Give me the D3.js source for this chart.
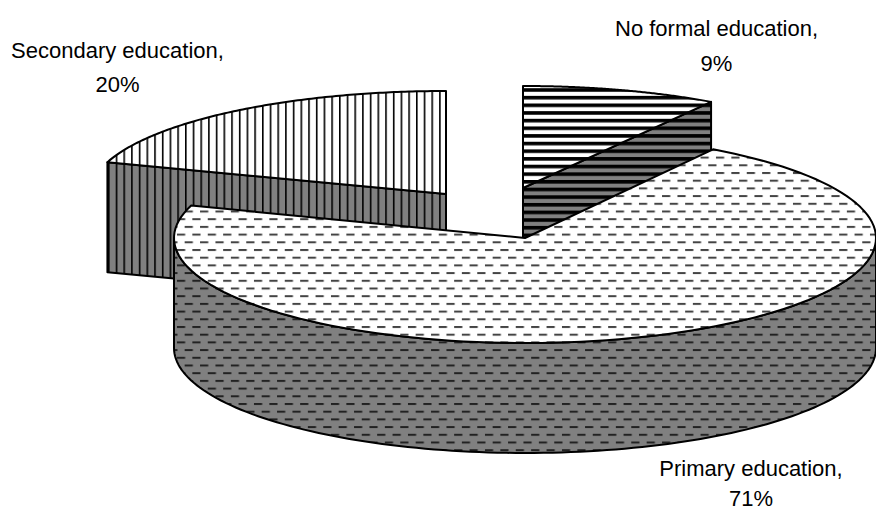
<!DOCTYPE html>
<html>
<head>
<meta charset="utf-8">
<script src="https://cdn.jsdelivr.net/npm/d3@7/dist/d3.min.js"></script>
<style>
html,body{margin:0;padding:0;background:#fff}
svg{display:block}
text{font-family:"Liberation Sans",Arial,sans-serif;font-size:22px;fill:#000}
</style>
</head>
<body>
<svg id="chart" width="876" height="511"></svg>
<script>
// Education level shares, in pie order starting from twelve o'clock
const categories = ["No formal education", "Primary education", "Secondary education"];
const shares = [9, 71, 20];
const patternNames = ["stripes", "dashes", "bars"];

// Exploded slice apexes on the page and each slice's disc radii
const apexX = [523, 525, 446];
const apexY = [188, 238, 194];
const radiusX = [351, 351, 356];
const radiusY = [102, 105, 103];
const depth = 110;

// Label anchors: centre x and the two baselines
const labelX = [716.5, 751, 117.5];
const labelY = [36, 476, 58];
const percentY = [71, 506, 92];

const svg = d3.select("#chart");
const defs = svg.append("defs");

// Hatch fills in two tones: white for top faces, mid grey for the walls
function stripePattern(id, bg) {
  const p = defs.append("pattern").attr("id", id).attr("patternUnits", "userSpaceOnUse")
    .attr("width", 8).attr("height", 7.65).attr("y", 88.2);
  p.append("rect").attr("width", 8).attr("height", 7.65).attr("fill", bg);
  p.append("rect").attr("width", 8).attr("height", 3.6).attr("fill", "#000");
}
function barPattern(id, bg) {
  const p = defs.append("pattern").attr("id", id).attr("patternUnits", "userSpaceOnUse")
    .attr("width", 7.7).attr("height", 8).attr("x", 0.2);
  p.append("rect").attr("width", 7.7).attr("height", 8).attr("fill", bg);
  p.append("rect").attr("width", 1.6).attr("height", 8).attr("fill", "#000");
}
function dashPattern(id, bg, ink) {
  const p = defs.append("pattern").attr("id", id).attr("patternUnits", "userSpaceOnUse")
    .attr("width", 15.4).attr("height", 15.4).attr("x", -0.15).attr("y", 10.3);
  p.append("rect").attr("width", 15.4).attr("height", 15.4).attr("fill", bg);
  p.append("rect").attr("width", 8.2).attr("height", 2).attr("fill", ink);
  p.append("rect").attr("x", 7.7).attr("y", 7.7).attr("width", 7.7).attr("height", 2).attr("fill", ink);
  p.append("rect").attr("x", 0).attr("y", 7.7).attr("width", 0.5).attr("height", 2).attr("fill", ink);
}
stripePattern("stripes-top", "#fff");
stripePattern("stripes-wall", "#808080");
barPattern("bars-top", "#fff");
barPattern("bars-wall", "#808080");
dashPattern("dashes-top", "#fff", "#444");
dashPattern("dashes-wall", "#808080", "#222");

const arcs = d3.pie().sort(null).value(d => d).startAngle(0).endAngle(2 * Math.PI)(shares);

// Tilted-disc projection: angle measured clockwise from the top
const px = (i, a) => apexX[i] + radiusX[i] * Math.sin(a);
const py = (i, a) => apexY[i] - radiusY[i] * Math.cos(a);
const line = d3.line();

function rimPoints(i, a0, a1, dy) {
  return d3.range(0, 121).map(k => {
    const a = a0 + (a1 - a0) * k / 120;
    return [px(i, a), py(i, a) + dy];
  });
}

const root = svg.append("g").attr("stroke", "#000").attr("stroke-width", 2).attr("stroke-linejoin", "round");

function drawSlice(i) {
  const { startAngle: a0, endAngle: a1 } = arcs[i];
  const name = patternNames[i];
  const apex = [apexX[i], apexY[i]];
  const g = root.append("g");
  const wall = d => g.append("path").attr("d", line(d) + "Z").attr("fill", `url(#${name}-wall)`);

  // Radial walls that face the viewer
  if (i === 0) {
    const p = [px(i, a1), py(i, a1)];
    wall([apex, p, [p[0], p[1] + depth], [apex[0], apex[1] + depth]]);
  }
  if (i === 2) {
    const p = [px(i, a0), py(i, a0)];
    wall([p, apex, [apex[0], apex[1] + depth], [p[0], p[1] + depth]]);
  }
  // Outer rim wall on the front half of the disc
  if (i === 1) {
    const from = Math.PI / 2, to = 3 * Math.PI / 2;
    wall(rimPoints(i, from, to, 0).concat(rimPoints(i, to, from, depth)));
  }
  // Top face
  g.append("path")
    .attr("d", line([apex].concat(rimPoints(i, a0, a1, 0))) + "Z")
    .attr("fill", `url(#${name}-top)`);
}

// Back slices first so the large front slice overlaps them
[2, 0, 1].forEach(drawSlice);

// Two-line category labels with the percentage below
categories.forEach((c, i) => {
  const t = svg.append("text").attr("text-anchor", "middle");
  t.append("tspan").attr("x", labelX[i]).attr("y", labelY[i]).text(c + ",");
  t.append("tspan").attr("x", labelX[i]).attr("y", percentY[i]).text(shares[i] + "%");
});
</script>
</body>
</html>
